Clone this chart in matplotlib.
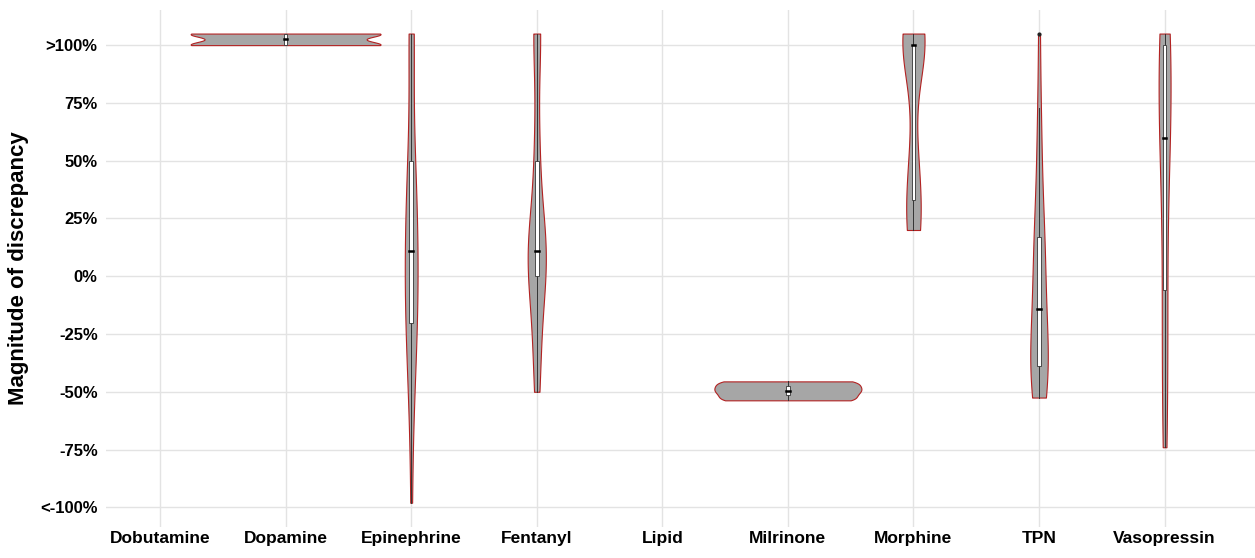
import numpy as np
import matplotlib
matplotlib.use('Agg')
import matplotlib.pyplot as plt
from matplotlib.patches import Rectangle

plt.rcParams['font.family'] = ['Liberation Sans', 'DejaVu Sans']

drugs = ['Dobutamine', 'Dopamine', 'Epinephrine', 'Fentanyl', 'Lipid',
         'Milrinone', 'Morphine', 'TPN', 'Vasopressin']

# discrepancy values (%), >100% shown as 105
dobutamine = []
dopamine = [100, 100, 105, 105]
epinephrine = [-98, -62, -48, -38, -30, -24, -19, -14, -8, -3, 2, 8, 14, 18,
               22, 27, 35, 50, 50, 55, 105, 105, 105, 105]
fentanyl = [-50, -38, -25, -12, 0, 3, 6, 9, 11, 14, 18, 28, 50, 62, 105, 105, 105]
lipid = []
milrinone = [-53.7, -49.5, -45.5]
morphine = [20, 20, 20, 20, 20, 33, 33, 38, 45, 52, 60,
            100, 100, 100, 100, 100, 100, 100, 100, 105, 105, 105, 105, 105]
tpn = [-52.5, -51, -49, -47, -45, -42, -39, -37, -34, -31, -28, -22, -14, -8,
       -3, 2, 8, 12, 17, 24, 32, 45, 60, 73, 105]
vasopressin = [-74, -60, -40, -20, -6, 15, 45, 55, 60, 65, 72, 85, 100, 100,
               105, 105, 105]

groups = [dobutamine, dopamine, epinephrine, fentanyl, lipid,
          milrinone, morphine, tpn, vasopressin]

ytick_vals = [-100, -75, -50, -25, 0, 25, 50, 75, 100]
ytick_labels = ['<-100%', '-75%', '-50%', '-25%', '0%', '25%', '50%', '75%', '>100%']

fill_col = '#A6A6A6'
edge_col = '#B22222'


def bw_nrd0(x):
    sd = np.std(x, ddof=1)
    q25, q75 = np.percentile(x, [25, 75])
    lo = min(sd, (q75 - q25) / 1.34)
    if lo <= 0:
        lo = sd
    return 0.9 * lo * len(x) ** -0.2


def kde(x):
    x = np.asarray(x, float)
    bw = bw_nrd0(x)
    grid = np.linspace(x.min(), x.max(), 512)
    d = np.exp(-0.5 * ((grid[:, None] - x[None, :]) / bw) ** 2).sum(1)
    d = d / (len(x) * bw * np.sqrt(2 * np.pi))
    return grid, d


fig = plt.figure(figsize=(12.55, 5.58), dpi=100)
ax = fig.add_axes([0.0845, 0.0556, 0.9155, 0.9265])

dens = {}
for i, g in enumerate(groups):
    if len(g) > 1:
        dens[i] = kde(g)
dmax = max(d.max() for _, d in dens.values())
half_w = 0.756
box_hw = 0.014

for i, g in enumerate(groups):
    if i not in dens:
        continue
    pos = i + 1
    y, d = dens[i]
    w = d / dmax * half_w
    ax.fill_betweenx(y, pos - w, pos + w, facecolor=fill_col,
                     edgecolor=edge_col, linewidth=0.8, zorder=2)
    q1, med, q3 = np.percentile(g, [25, 50, 75])
    iqr = q3 - q1
    arr = np.asarray(g, float)
    hi = arr[arr <= q3 + 1.5 * iqr].max()
    lo = arr[arr >= q1 - 1.5 * iqr].min()
    ax.plot([pos, pos], [q3, hi], color='#333333', lw=0.7, zorder=3)
    ax.plot([pos, pos], [lo, q1], color='#333333', lw=0.7, zorder=3)
    ax.add_patch(Rectangle((pos - box_hw, q1), 2 * box_hw, q3 - q1,
                           facecolor='white', edgecolor='#333333', lw=0.6, zorder=4))
    ax.plot([pos - box_hw, pos + box_hw], [med, med], color='black', lw=1.8, zorder=5)
    out = arr[(arr > q3 + 1.5 * iqr) | (arr < q1 - 1.5 * iqr)]
    ax.scatter(np.full(len(out), pos), out, s=4, color='#222222', zorder=5)

ax.set_xlim(0.57, 9.72)
ax.set_ylim(-108.5, 115.2)
ax.set_xticks(range(1, len(drugs) + 1))
ax.set_xticklabels(drugs, fontsize=12.5, fontweight='bold')
ax.set_yticks(ytick_vals)
ax.set_yticklabels(ytick_labels, fontsize=12, fontweight='bold')
ax.tick_params(axis='x', length=0, pad=3)
ax.tick_params(axis='y', length=0, pad=6)
ax.set_ylabel('Magnitude of discrepancy', fontsize=16, fontweight='bold', labelpad=8)
ax.grid(True, color='#E3E3E3', lw=1)
ax.set_axisbelow(True)
for s in ax.spines.values():
    s.set_visible(False)

fig.savefig('out.png', dpi=100)
